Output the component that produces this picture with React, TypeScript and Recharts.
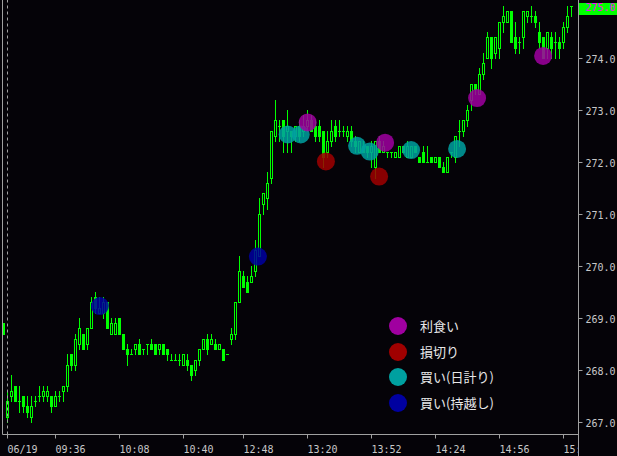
import { Bar, ComposedChart, Legend, ReferenceLine, Scatter, XAxis, YAxis } from "recharts"

// 2-minute candles, index 0 is the last bar of the previous day
const opens = [
  268.9, 267.1, 267.5, 267.7, 267.4, 267.5, 267.3, 267.1, 267.4, 267.5,
  267.5, 267.5, 267.5, 267.3, 267.5, 267.6, 267.7, 268.3, 268.1, 268.5,
  268.7, 268.5, 268.8, 269.4, 269.1, 269.1, 269.3, 268.7, 268.7, 269.0,
  268.7, 268.4, 268.3, 268.4, 268.5, 268.4, 268.5, 268.5, 268.5, 268.4,
  268.5, 268.4, 268.2, 268.2, 268.2, 268.1, 268.2, 268.1, 268.0, 268.2,
  268.4, 268.6, 268.5, 268.5, 268.4, 268.4, 268.3, 268.6, 268.7, 269.3,
  269.8, 269.7, 269.7, 269.9, 270.2, 271.2, 271.3, 271.7, 272.5, 272.7,
  272.8, 272.6, 272.6, 272.5, 272.7, 272.6, 272.7, 272.8, 272.7, 272.7,
  272.6, 272.2, 272.4, 272.7, 272.6, 272.6, 272.5, 272.6, 272.4, 272.2,
  272.3, 272.3, 272.2, 271.9, 272.4, 272.2, 272.2, 272.2, 272.1, 272.1,
  272.3, 272.1, 272.1, 272.3, 272.1, 272.2, 272.0, 272.1, 272.0, 272.1,
  271.9, 271.8, 272.2, 272.1, 272.6, 272.6, 272.8, 273.2, 273.5, 273.3,
  273.7, 274.0, 274.4, 274.1, 274.2, 274.7, 274.7, 274.9, 274.4, 274.3,
  274.4, 274.8, 274.8, 274.8, 274.5, 274.4, 274.2, 274.4, 274.3, 274.3,
  274.3, 274.6, 275.0,
]
const highs = [
  268.9, 267.6, 267.9, 267.7, 267.7, 267.5, 267.5, 267.5, 267.5, 267.7,
  267.7, 267.7, 267.5, 267.6, 267.6, 267.7, 268.3, 268.3, 268.7, 269.0,
  268.7, 268.8, 269.4, 269.5, 269.4, 269.4, 269.3, 269.0, 269.0, 269.0,
  268.7, 268.5, 268.4, 268.5, 268.6, 268.4, 268.5, 268.6, 268.5, 268.5,
  268.5, 268.4, 268.3, 268.3, 268.3, 268.3, 268.3, 268.1, 268.2, 268.4,
  268.6, 268.7, 268.7, 268.6, 268.5, 268.4, 268.3, 268.8, 269.3, 270.2,
  269.9, 269.8, 270.0, 270.5, 271.3, 271.4, 271.8, 272.6, 273.2, 272.8,
  272.8, 273.0, 272.6, 272.7, 272.8, 272.9, 273.0, 272.9, 272.8, 272.8,
  272.6, 272.6, 272.8, 272.8, 272.8, 272.7, 272.7, 272.7, 272.5, 272.4,
  272.4, 272.3, 272.4, 272.4, 272.5, 272.4, 272.2, 272.2, 272.2, 272.3,
  272.3, 272.4, 272.3, 272.3, 272.1, 272.3, 272.3, 272.1, 272.1, 272.1,
  272.0, 272.1, 272.2, 272.5, 272.8, 272.8, 273.1, 273.5, 273.5, 273.8,
  274.1, 274.5, 274.4, 274.4, 274.7, 275.0, 274.9, 274.9, 274.7, 274.4,
  274.9, 274.9, 275.0, 274.9, 274.7, 274.4, 274.5, 274.5, 274.5, 274.4,
  274.7, 275.0, 275.0,
]
const lows = [
  268.7, 267.0, 267.4, 267.4, 267.2, 267.2, 267.1, 267.0, 267.3, 267.4,
  267.4, 267.4, 267.2, 267.3, 267.4, 267.4, 267.6, 268.0, 268.0, 268.4,
  268.4, 268.4, 268.8, 269.1, 269.1, 269.0, 268.8, 268.7, 268.7, 268.7,
  268.4, 268.1, 268.3, 268.3, 268.3, 268.3, 268.3, 268.4, 268.3, 268.3,
  268.3, 268.2, 268.2, 268.2, 268.1, 268.1, 268.0, 267.8, 267.9, 268.1,
  268.4, 268.3, 268.5, 268.4, 268.4, 268.2, 268.3, 268.5, 268.6, 269.3,
  269.6, 269.5, 269.7, 269.8, 270.2, 271.0, 271.1, 271.6, 272.4, 272.4,
  272.2, 272.2, 272.2, 272.4, 272.4, 272.5, 272.6, 272.6, 272.4, 272.4,
  271.9, 272.1, 272.3, 272.4, 272.5, 272.5, 272.4, 272.3, 272.2, 272.2,
  272.2, 272.1, 271.9, 271.7, 272.2, 272.2, 272.1, 272.1, 272.1, 272.1,
  272.2, 272.1, 272.1, 272.2, 272.0, 272.0, 272.0, 272.0, 272.0, 271.9,
  271.8, 271.8, 272.1, 272.0, 272.3, 272.5, 272.7, 273.0, 273.3, 273.3,
  273.6, 274.0, 273.8, 274.0, 274.0, 274.5, 274.7, 274.3, 274.1, 274.1,
  274.2, 274.7, 274.7, 274.6, 274.2, 274.0, 274.0, 274.0, 274.0, 274.0,
  274.2, 274.5, 274.8,
]
const closes = [
  268.7, 267.4, 267.6, 267.4, 267.4, 267.3, 267.2, 267.3, 267.4, 267.5,
  267.6, 267.6, 267.3, 267.5, 267.5, 267.7, 268.1, 268.1, 268.6, 268.8,
  268.4, 268.8, 269.3, 269.2, 269.2, 269.3, 268.8, 268.9, 268.9, 268.7,
  268.4, 268.3, 268.3, 268.5, 268.3, 268.4, 268.5, 268.4, 268.3, 268.5,
  268.3, 268.3, 268.2, 268.2, 268.2, 268.3, 268.1, 267.9, 268.2, 268.4,
  268.6, 268.4, 268.6, 268.4, 268.5, 268.2, 268.3, 268.7, 269.3, 269.9,
  269.6, 269.5, 269.8, 270.3, 271.0, 271.4, 271.6, 272.6, 272.8, 272.7,
  272.5, 272.7, 272.5, 272.7, 272.5, 272.7, 272.8, 272.6, 272.5, 272.5,
  272.1, 272.4, 272.6, 272.5, 272.6, 272.6, 272.6, 272.4, 272.3, 272.4,
  272.2, 272.2, 272.3, 272.4, 272.2, 272.3, 272.2, 272.2, 272.2, 272.3,
  272.2, 272.3, 272.3, 272.2, 272.0, 272.0, 272.0, 272.0, 272.1, 271.9,
  271.8, 272.1, 272.2, 272.5, 272.6, 272.8, 273.0, 273.5, 273.4, 273.7,
  273.9, 274.4, 274.0, 274.4, 274.7, 274.8, 274.9, 274.3, 274.2, 274.3,
  274.9, 274.9, 274.8, 274.7, 274.3, 274.0, 274.5, 274.2, 274.3, 274.2,
  274.6, 274.8, 275.0,
]

const timeTicks = [1, 13, 29, 45, 60, 76, 92, 108, 124, 140]
const timeLabels = ["06/19", "09:36", "10:08", "10:40", "12:48", "13:20", "13:52", "14:24", "14:56", "15:28"]
const priceTicks = [267, 268, 269, 270, 271, 272, 273, 274, 275]
const dayStart = 1

// trade markers: position in bars, price
const takeProfit = [
  { idx: 76.05, price: 272.77 },
  { idx: 95.4, price: 272.38 },
  { idx: 118.4, price: 273.24 },
  { idx: 134.9, price: 274.05 },
]
const stopLoss = [
  { idx: 80.6, price: 272.02 },
  { idx: 93.9, price: 271.73 },
]
const buyDay = [
  { idx: 71.05, price: 272.54 },
  { idx: 74.3, price: 272.54 },
  { idx: 88.4, price: 272.32 },
  { idx: 91.55, price: 272.21 },
  { idx: 101.9, price: 272.24 },
  { idx: 113.4, price: 272.26 },
]
const buyCarry = [
  { idx: 24.1, price: 269.24 },
  { idx: 63.6, price: 270.19 },
]

const markerSeries = [
  { name: "利食い", color: "#a000a0", data: takeProfit },
  { name: "損切り", color: "#a00000", data: stopLoss },
  { name: "買い(日計り)", color: "#00a0a0", data: buyDay },
  { name: "買い(持越し)", color: "#0000a0", data: buyCarry },
]

const candles = opens.map((open, idx) => ({
  idx,
  open,
  high: highs[idx],
  low: lows[idx],
  close: closes[idx],
}))
const lastClose = closes[closes.length - 1]

const GREEN = "#00ff00"
const AXIS = "#a0a0a0"
const TEXT = "#c8c8c8"
const MONO = "'DejaVu Sans Mono', monospace"

function Candle(props: any) {
  const { x, y, width, height, payload } = props
  const { open, close, high, low } = payload
  const c = Math.floor(x + width / 2 + 0.25)
  const span = high - low
  const k = span > 0 ? height / span : 0
  const row = (v: number) => Math.floor(y + (high - v) * k + 1e-6)
  const rh = row(high)
  const rl = row(low)
  const top = Math.min(row(open), row(close))
  const bot = Math.max(row(open), row(close))
  const wx = c + 0.5

  if (top === bot) {
    return (
      <g>
        {rl > rh && <line x1={wx} x2={wx} y1={rh} y2={rl + 1} stroke={GREEN} />}
        <rect x={c - 1} y={top} width={3} height={1} fill={GREEN} />
      </g>
    )
  }
  if (close > open) {
    // up bar: hollow body
    return (
      <g>
        {top > rh && <line x1={wx} x2={wx} y1={rh} y2={top} stroke={GREEN} />}
        {rl > bot && <line x1={wx} x2={wx} y1={bot + 1} y2={rl + 1} stroke={GREEN} />}
        <rect x={c - 0.5} y={top + 0.5} width={2} height={bot - top} fill="none" stroke={GREEN} />
      </g>
    )
  }
  return (
    <g>
      <line x1={wx} x2={wx} y1={rh} y2={rl + 1} stroke={GREEN} />
      <rect x={c - 1} y={top} width={3} height={bot - top + 1} fill={GREEN} />
    </g>
  )
}

function PriceTick({ x, y, payload }: any) {
  const v = payload.value
  const isLast = Math.abs(v - lastClose) < 1e-9
  return (
    <g>
      {isLast && <rect x={x - 6.5} y={y - 3.5} width={38} height={12} fill="#00ff00" />}
      <text x={x} y={y + 5} fill={isLast ? "#ff00ff" : TEXT} fontSize={10} fontFamily={MONO}>
        {v.toFixed(1)}
      </text>
    </g>
  )
}

function TimeTick({ x, y, payload, index }: any) {
  const i = timeTicks.indexOf(payload.value)
  return (
    <g>
      {index === 0 && (
        <defs>
          <clipPath id="time-clip">
            <rect x={0} y={y - 10} width={578} height={30} />
          </clipPath>
        </defs>
      )}
      <text x={x} y={y + 12.5} fill={TEXT} fontSize={10} fontFamily={MONO} clipPath="url(#time-clip)">
        {timeLabels[i]}
      </text>
    </g>
  )
}

function MarkerLegend({ payload }: any) {
  const names = markerSeries.map((s) => s.name)
  const items = (payload ?? [])
    .filter((it: any) => names.includes(it.value))
    .sort((a: any, b: any) => names.indexOf(a.value) - names.indexOf(b.value))
  return (
    <div>
      {items.map((it: any) => {
        const color = markerSeries.find((s) => s.name === it.value)?.color ?? it.color
        return (
          <div key={it.value} style={{ height: 25.8, display: "flex", alignItems: "center" }}>
            <svg width={18} height={18} style={{ display: "block" }}>
              <circle cx={9} cy={9} r={9} fill={color} />
            </svg>
            <span
              style={{
                marginLeft: 13,
                color: "#e8e8e8",
                fontSize: 13,
                fontFamily: "'Noto Sans CJK JP', sans-serif",
                lineHeight: "18px",
              }}
            >
              {it.value}
            </span>
          </div>
        )
      })}
    </div>
  )
}

export default function App() {
  return (
    <div style={{ position: "absolute", left: 0, top: 0, width: 617, height: 456, background: "#050308" }}>
      <ComposedChart width={617} height={456} data={candles} margin={{ top: 0, right: 0.5, bottom: 0, left: 0.5 }}>
        <XAxis
          dataKey="idx"
          type="number"
          domain={[-0.25, 143.75]}
          allowDataOverflow
          ticks={timeTicks}
          interval={0}
          tick={<TimeTick />}
          tickSize={4}
          height={21.5}
          axisLine={{ stroke: AXIS }}
          tickLine={{ stroke: AXIS }}
        />
        <YAxis
          yAxisId="left"
          orientation="left"
          type="number"
          domain={[266.769, 275.125]}
          allowDataOverflow
          ticks={priceTicks}
          interval={0}
          width={2}
          tickSize={2}
          tick={false}
          axisLine={{ stroke: AXIS }}
          tickLine={{ stroke: AXIS }}
        />
        <YAxis
          yAxisId="right"
          orientation="right"
          type="number"
          domain={[266.769, 275.125]}
          allowDataOverflow
          ticks={priceTicks}
          interval={0}
          width={38}
          tickSize={4}
          tickMargin={3}
          tick={<PriceTick />}
          axisLine={{ stroke: AXIS }}
          tickLine={{ stroke: AXIS }}
        />
        <ReferenceLine x={dayStart} yAxisId="right" stroke={AXIS} strokeDasharray="3 3" />
        <Bar
          yAxisId="right"
          dataKey={(d: any) => [d.low, d.high]}
          barSize={3}
          shape={<Candle />}
          isAnimationActive={false}
          legendType="none"
        />
        {[...markerSeries].reverse().map((s) => (
          <Scatter
            key={s.name}
            name={s.name}
            yAxisId="right"
            data={s.data}
            dataKey="price"
            fill={s.color}
            isAnimationActive={false}
            shape={(p: any) => <circle cx={p.cx} cy={p.cy} r={9} fill={s.color} fillOpacity={0.85} />}
          />
        ))}
        <Legend
          layout="vertical"
          align="center"
          verticalAlign="middle"
          content={<MarkerLegend />}
          wrapperStyle={{ left: 389, top: 313, width: 200 }}
        />
      </ComposedChart>
      <div style={{ position: "absolute", left: 578, top: 434, width: 1, height: 22, background: AXIS }} />
    </div>
  )
}
